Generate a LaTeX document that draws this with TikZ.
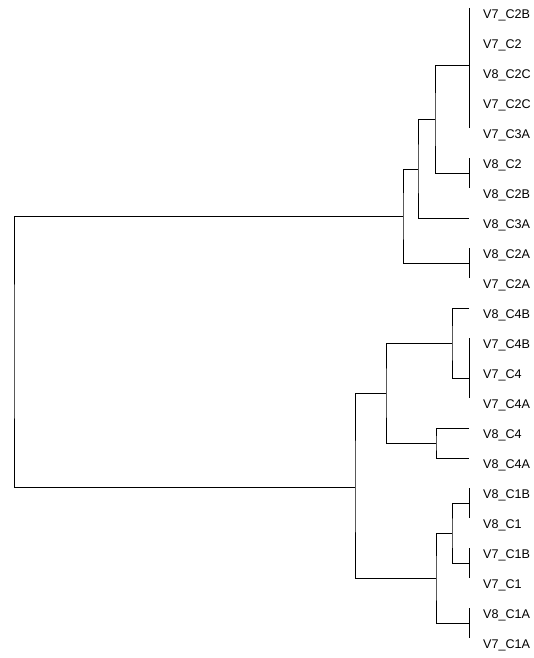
\documentclass[tikz,border=0pt]{standalone}
\usepackage{fontspec}
\setmainfont{Liberation Sans}
\begin{document}
\begin{tikzpicture}[x=1pt,y=-1pt,
  branch/.style={draw=black,line width=0.8pt},
  leaflabel/.style={anchor=west,inner sep=0pt,font=\fontsize{12.6}{14}\selectfont}]
\useasboundingbox (0,0) rectangle (534,658);
% leaves and labels
\foreach \n [count=\i from 0] in {V7\_C2B,V7\_C2,V8\_C2C,V7\_C2C,V7\_C3A,V8\_C2,V8\_C2B,V8\_C3A,V8\_C2A,V7\_C2A,V8\_C4B,V7\_C4B,V7\_C4,V7\_C4A,V8\_C4,V8\_C4A,V8\_C1B,V8\_C1,V7\_C1B,V7\_C1,V8\_C1A,V7\_C1A}{
  \coordinate (l\i) at (469,{8+30*\i});
  \node[leaflabel] (t\i) at (483,{15+30*\i}) {\n};
}
% internal nodes
\coordinate (A) at (469,65.7);
\coordinate (B) at (469,173);
\coordinate (C) at (435,119.5);
\coordinate (D) at (418,169);
\coordinate (E) at (469,263);
\coordinate (F) at (403,216);
\coordinate (G) at (469,378);
\coordinate (H) at (452,343);
\coordinate (I) at (436,443);
\coordinate (J) at (386,393);
\coordinate (K) at (469,503);
\coordinate (L) at (469,563);
\coordinate (M) at (452,533);
\coordinate (N) at (469,623);
\coordinate (O) at (436,578);
\coordinate (P) at (355,487);
\coordinate (R) at (14,351);
% zero-height clusters
\draw[branch] (l0) -- (l4);
\draw[branch] (l5) -- (l6);
\draw[branch] (l8) -- (l9);
\draw[branch] (l11) -- (l13);
\draw[branch] (l16) -- (l17);
\draw[branch] (l18) -- (l19);
\draw[branch] (l20) -- (l21);
% merges
\draw[branch] (A) -| (C) |- (B);
\draw[branch] (C) -| (D) |- (l7);
\draw[branch] (D) -| (F) |- (E);
\draw[branch] (l10) -| (H) |- (G);
\draw[branch] (l14) -| (I) |- (l15);
\draw[branch] (H) -| (J) |- (I);
\draw[branch] (K) -| (M) |- (L);
\draw[branch] (M) -| (O) |- (N);
\draw[branch] (J) -| (P) |- (O);
\draw[branch] (F) -| (R) |- (P);
\end{tikzpicture}
\end{document}
